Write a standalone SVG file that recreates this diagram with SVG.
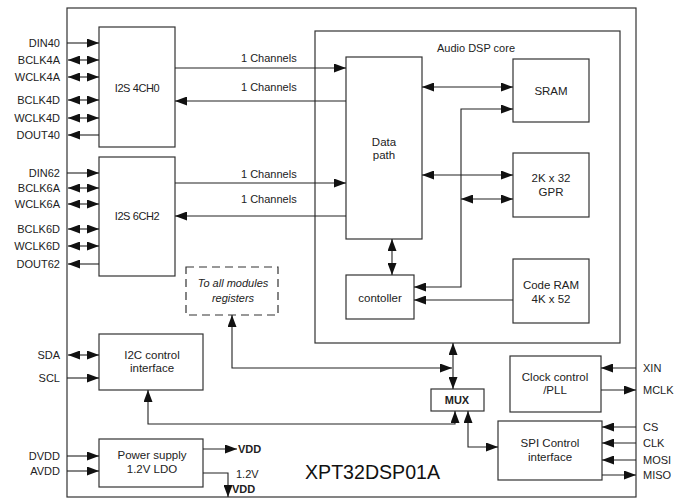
<svg xmlns="http://www.w3.org/2000/svg" width="675" height="502" viewBox="0 0 675 502">
<style>
.b{fill:#fff;stroke:#333;stroke-width:1.2}
.c{fill:none;stroke:#222;stroke-width:1.1}
.t{font-family:"Liberation Sans",Arial,sans-serif;font-size:11px;fill:#222}
.k{font-size:11.5px}
.m{text-anchor:middle}
.r{text-anchor:end}
.i{font-style:italic}
</style>
<defs>
<marker id="a" viewBox="0 0 12 9" refX="12" refY="4.5" markerWidth="12" markerHeight="9" markerUnits="userSpaceOnUse" orient="auto-start-reverse">
<path d="M0,0 L12,4.5 L0,9 z" fill="#111"/>
</marker>
</defs>
<rect width="675" height="502" fill="#fff"/>
<g id="chip"><rect class="b" x="67" y="8" width="569" height="489"/>
<text x="305" y="479" font-size="19.5" font-family="'Liberation Sans',Arial,sans-serif" textLength="135" lengthAdjust="spacingAndGlyphs" fill="#111">XPT32DSP01A</text></g>
<g id="dspcore"><rect class="b" x="315" y="31" width="305" height="312"/><text class="t m" x="476" y="52">Audio DSP core</text></g>
<g id="i2s4"><rect class="b" x="99" y="27" width="76" height="120"/><text class="t m" x="137" y="92" font-size="10.5" letter-spacing="-0.4">I2S 4CH0</text></g>
<g id="i2s6"><rect class="b" x="99" y="157" width="76" height="119"/><text class="t m" x="137" y="220" font-size="10.5" letter-spacing="-0.4">I2S 6CH2</text></g>
<g id="datapath"><rect class="b" x="346" y="57" width="76" height="182"/><text class="t k m" x="384" y="146">Data</text><text class="t k m" x="384" y="159">path</text></g>
<g id="sram"><rect class="b" x="513" y="59" width="76" height="63"/><text class="t k m" x="551" y="95">SRAM</text></g>
<g id="gpr"><rect class="b" x="513" y="153" width="76" height="64"/><text class="t k m" x="551" y="182">2K x 32</text><text class="t k m" x="551" y="196">GPR</text></g>
<g id="coderam"><rect class="b" x="513" y="259" width="76" height="64"/><text class="t k m" x="551" y="289">Code RAM</text><text class="t k m" x="551" y="303">4K x 52</text></g>
<g id="controller"><rect class="b" x="346" y="275" width="68" height="44"/><text class="t k m" x="380" y="302">contoller</text></g>
<g id="registers"><rect x="186" y="267" width="92" height="48" fill="#fff" stroke="#333" stroke-width="1.2" stroke-dasharray="8,5"/><text class="t m i" x="233" y="287">To all modules</text><text class="t m i" x="233" y="302">registers</text></g>
<g id="i2c"><rect class="b" x="99" y="334" width="104" height="56"/><text class="t k m" x="152" y="359">I2C control</text><text class="t k m" x="152" y="372">interface</text></g>
<g id="power"><rect class="b" x="99" y="439" width="104" height="48"/><text class="t k m" x="152" y="459">Power supply</text><text class="t k m" x="152" y="473">1.2V LDO</text></g>
<g id="mux"><rect class="b" x="431" y="389" width="53" height="22"/><text class="t m" x="457" y="404" font-weight="bold">MUX</text></g>
<g id="clock"><rect class="b" x="510" y="356" width="91" height="56"/><text class="t k m" x="555" y="381">Clock control</text><text class="t k m" x="555" y="394">/PLL</text></g>
<g id="spi"><rect class="b" x="498" y="421" width="104" height="59"/><text class="t k m" x="550" y="447">SPI Control</text><text class="t k m" x="550" y="461">interface</text></g>
<g id="labels">
<text class="t r" x="60" y="47">DIN40</text>
<text class="t r" x="60" y="64">BCLK4A</text>
<text class="t r" x="60" y="81">WCLK4A</text>
<text class="t r" x="60" y="104">BCLK4D</text>
<text class="t r" x="60" y="122">WCLK4D</text>
<text class="t r" x="60" y="139">DOUT40</text>
<text class="t r" x="60" y="177">DIN62</text>
<text class="t r" x="60" y="192">BCLK6A</text>
<text class="t r" x="60" y="208">WCLK6A</text>
<text class="t r" x="60" y="233">BCLK6D</text>
<text class="t r" x="60" y="250">WCLK6D</text>
<text class="t r" x="60" y="268">DOUT62</text>
<text class="t r" x="60" y="359">SDA</text>
<text class="t r" x="60" y="382">SCL</text>
<text class="t r" x="60" y="460">DVDD</text>
<text class="t r" x="60" y="475">AVDD</text>
<text class="t" x="241" y="62">1 Channels</text>
<text class="t" x="241" y="91">1 Channels</text>
<text class="t" x="241" y="178">1 Channels</text>
<text class="t" x="241" y="203">1 Channels</text>
<text class="t" x="238" y="453" font-weight="bold">VDD</text>
<text class="t" x="236" y="478">1.2V</text>
<text class="t" x="232" y="493" font-weight="bold">VDD</text>
<text class="t" x="643" y="372">XIN</text>
<text class="t" x="643" y="394">MCLK</text>
<text class="t" x="643" y="431">CS</text>
<text class="t" x="643" y="447">CLK</text>
<text class="t" x="643" y="464">MOSI</text>
<text class="t" x="643" y="479">MISO</text>
</g>
<g id="connectors">
<path class="c" d="M67,43H99" marker-end="url(#a)"/>
<path class="c" d="M68,60H99" marker-start="url(#a)" marker-end="url(#a)"/>
<path class="c" d="M68,77H99" marker-start="url(#a)" marker-end="url(#a)"/>
<path class="c" d="M68,100H99" marker-start="url(#a)" marker-end="url(#a)"/>
<path class="c" d="M68,118H99" marker-start="url(#a)" marker-end="url(#a)"/>
<path class="c" d="M99,135H68" marker-end="url(#a)"/>
<path class="c" d="M67,173H99" marker-end="url(#a)"/>
<path class="c" d="M68,188H99" marker-start="url(#a)" marker-end="url(#a)"/>
<path class="c" d="M68,204H99" marker-start="url(#a)" marker-end="url(#a)"/>
<path class="c" d="M68,229H99" marker-start="url(#a)" marker-end="url(#a)"/>
<path class="c" d="M68,246H99" marker-start="url(#a)" marker-end="url(#a)"/>
<path class="c" d="M99,264H68" marker-end="url(#a)"/>
<path class="c" d="M68,355H99" marker-start="url(#a)" marker-end="url(#a)"/>
<path class="c" d="M67,378H99" marker-end="url(#a)"/>
<path class="c" d="M67,456H99" marker-end="url(#a)"/>
<path class="c" d="M67,471H99" marker-end="url(#a)"/>
<path class="c" d="M175,68H346" marker-end="url(#a)"/>
<path class="c" d="M346,101H175" marker-end="url(#a)"/>
<path class="c" d="M175,183H346" marker-end="url(#a)"/>
<path class="c" d="M346,216H175" marker-end="url(#a)"/>
<path class="c" d="M422,87H513" marker-start="url(#a)" marker-end="url(#a)"/>
<path class="c" d="M414,287H461V109H513" marker-start="url(#a)" marker-end="url(#a)"/>
<path class="c" d="M422,175H513" marker-start="url(#a)" marker-end="url(#a)"/>
<path class="c" d="M461,199H513" marker-start="url(#a)" marker-end="url(#a)"/>
<path class="c" d="M513,300H414" marker-end="url(#a)"/>
<path class="c" d="M392,239V275" marker-start="url(#a)" marker-end="url(#a)"/>
<path class="c" d="M453,343V389" marker-start="url(#a)" marker-end="url(#a)"/>
<path class="c" d="M232,315V368H452" marker-start="url(#a)" marker-end="url(#a)"/>
<path class="c" d="M148,390V424H455V411" marker-start="url(#a)" marker-end="url(#a)"/>
<path class="c" d="M468,411V447H498" marker-start="url(#a)" marker-end="url(#a)"/>
<path class="c" d="M636,368H601" marker-end="url(#a)"/>
<path class="c" d="M601,390H636" marker-end="url(#a)"/>
<path class="c" d="M636,427H602" marker-end="url(#a)"/>
<path class="c" d="M636,443H602" marker-end="url(#a)"/>
<path class="c" d="M636,460H602" marker-end="url(#a)"/>
<path class="c" d="M602,475H636" marker-end="url(#a)"/>
<path class="c" d="M203,449H237" marker-end="url(#a)"/>
<path class="c" d="M203,473H228V497" marker-end="url(#a)"/>
</g>
</svg>
